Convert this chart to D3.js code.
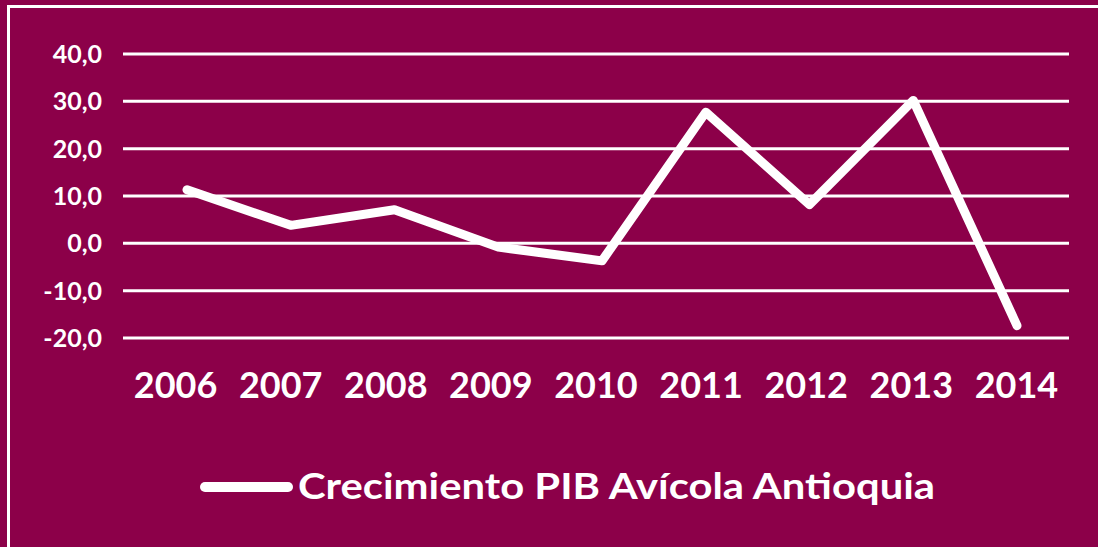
<!DOCTYPE html>
<html>
<head>
<meta charset="utf-8">
<script src="https://cdn.jsdelivr.net/npm/d3@7"></script>
<style>
  html, body { margin: 0; padding: 0; background: #8c0049; }
  svg { display: block; }
  text { font-family: Lato, "Open Sans", sans-serif; font-weight: bold; fill: #fff; }
</style>
</head>
<body>
<div id="chart"></div>
<script>
const years = ["2006", "2007", "2008", "2009", "2010", "2011", "2012", "2013", "2014"];
const growth = [11.3, 3.8, 7.1, -0.8, -3.7, 27.7, 8.2, 30.2, -17.4];
const yTicks = [-20, -10, 0, 10, 20, 30, 40];
const seriesName = "Crecimiento PIB Avícola Antioquia";

const width = 1098, height = 547;

let svg = d3.select("#chart").append("svg")
  .attr("width", width)
  .attr("height", height);

svg.append("rect")
  .attr("width", width).attr("height", height)
  .attr("fill", "#8c0049");

// white frame, runs off the right and bottom edges
svg.append("rect")
  .attr("x", 8.5).attr("y", 6.5)
  .attr("width", width + 20).attr("height", height + 20)
  .attr("fill", "none")
  .attr("stroke", "#fff")
  .attr("stroke-width", 3);

let x = d3.scaleBand().domain(years).range([123, 1069]);
// the line sits a bit right of the label centres in the original
let xLine = d3.scalePoint().domain(years).range([187, 1017]);
let y = d3.scaleLinear().domain([-20, 40]).range([338, 54]);

// gridlines
svg.append("g")
  .selectAll("line")
  .data(yTicks)
  .enter().append("line")
  .attr("x1", 123).attr("x2", 1069)
  .attr("y1", d => y(d)).attr("y2", d => y(d))
  .attr("stroke", "#fff")
  .attr("stroke-width", 3);

// y labels
svg.append("g")
  .selectAll("text")
  .data(yTicks)
  .enter().append("text")
  .attr("x", 102)
  .attr("y", d => y(d))
  .attr("dy", "0.36em")
  .attr("text-anchor", "end")
  .attr("font-size", 25)
  .text(d => d3.format(".1f")(d).replace(".", ",").replace("−", "-"));

// x labels
svg.append("g")
  .selectAll("text")
  .data(years)
  .enter().append("text")
  .attr("x", d => x(d) + x.bandwidth() / 2)
  .attr("y", 398)
  .attr("text-anchor", "middle")
  .attr("font-size", 36)
  .text(d => d);

let line = d3.line()
  .x((d, i) => xLine(years[i]))
  .y(d => y(d));

svg.append("path")
  .datum(growth)
  .attr("d", line)
  .attr("fill", "none")
  .attr("stroke", "#fff")
  .attr("stroke-width", 9)
  .attr("stroke-linecap", "round")
  .attr("stroke-linejoin", "round");

// legend
let legend = svg.append("g");
legend.append("line")
  .attr("x1", 205).attr("x2", 288)
  .attr("y1", 487).attr("y2", 487)
  .attr("stroke", "#fff")
  .attr("stroke-width", 10)
  .attr("stroke-linecap", "round");
legend.append("text")
  .attr("x", 298)
  .attr("y", 499)
  .attr("font-size", 36)
  .attr("textLength", 637)
  .attr("lengthAdjust", "spacingAndGlyphs")
  .text(seriesName);
</script>
</body>
</html>
